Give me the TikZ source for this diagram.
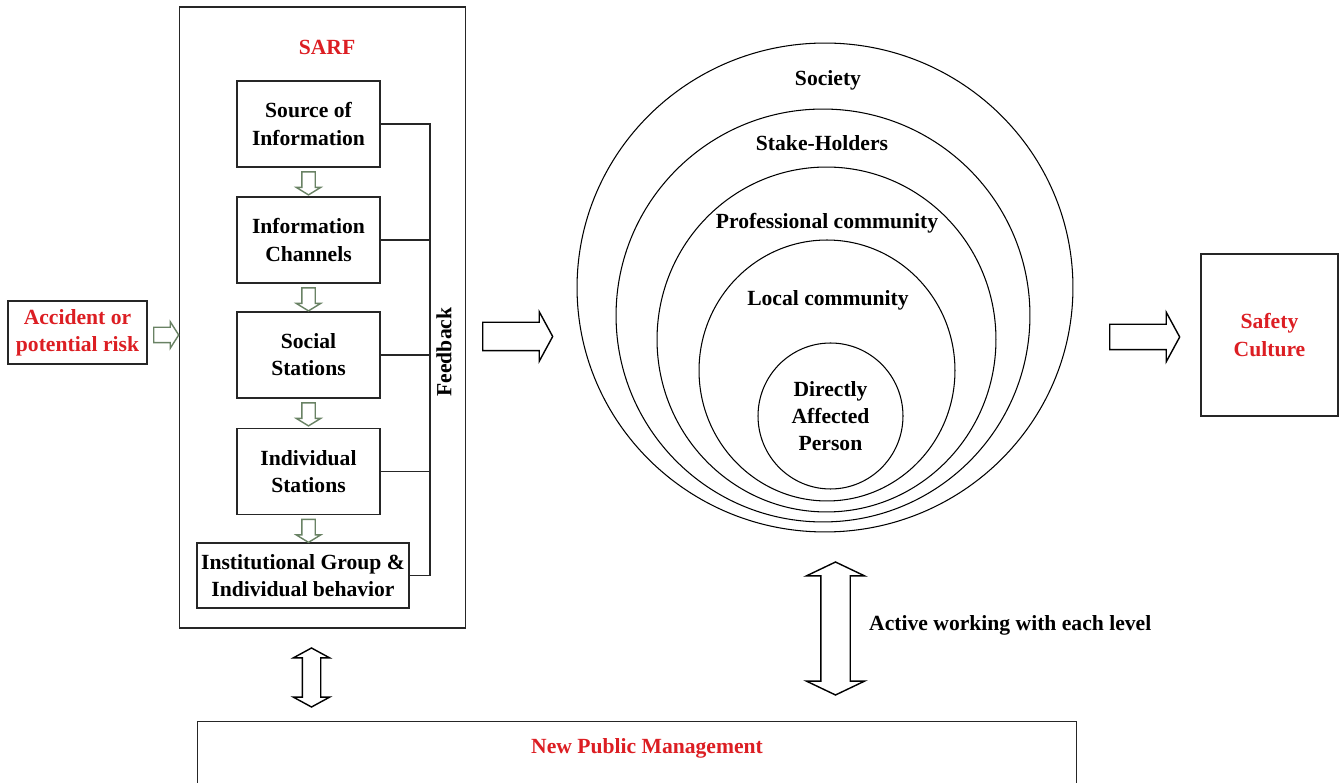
\documentclass[tikz,border=0pt]{standalone}
\usepackage{fontspec}
\setmainfont{Liberation Serif}
\usetikzlibrary{shapes.geometric, shapes.arrows, positioning}

\definecolor{sarfred}{RGB}{220,30,35}
\definecolor{flowgreen}{RGB}{105,130,100}

\begin{document}
\begin{tikzpicture}[
    x=0.02cm, y=-0.02cm,
    font=\fontsize{12.3}{15.4}\selectfont\bfseries,
    box/.style={draw=black!85, line width=0.8pt, rectangle, align=center,
                inner sep=2pt},
    stage/.style={box, minimum width=2.86cm, minimum height=1.72cm},
    redtext/.style={text=sarfred, align=center},
    ring/.style={draw, ellipse, line width=0.6pt, inner sep=0pt, align=center},
    blockarrow/.style={draw, single arrow, line width=0.8pt, fill=white,
                       anchor=tail},
    smallarrow/.style={blockarrow, draw=flowgreen},
    twoway/.style={draw, double arrow, line width=0.8pt, fill=white,
                   shape border rotate=90},
    fbline/.style={line width=0.8pt, black!85},
]
\clip (0,0) rectangle (1340,783);

% ------------------------------------------------------------
% SARF frame and its stages
% ------------------------------------------------------------
\node[box, minimum width=5.72cm, minimum height=12.42cm] (sarf) at (322.5,317.5) {};
\node[redtext] (sarftitle) at (327,47) {SARF};

\node[stage] (src)  at (308.5,124)   {Source of\\Information};
\node[stage] (chan) at (308.5,240)   {Information\\Channels};
\node[stage] (soc)  at (308.5,355)   {Social\\Stations};
\node[stage] (ind)  at (308.5,471.5) {Individual\\Stations};
\node[box, minimum width=4.24cm, minimum height=1.3cm, inner sep=1pt]
    (inst) at (303,575.5) {Institutional Group \&\\Individual behavior};

% small arrows between the stages
\foreach \s in {src,chan,soc,ind}
    \node[smallarrow, shape border rotate=270, minimum height=0.46cm,
          inner sep=0.12cm, single arrow head extend=0.11cm,
          single arrow tip angle=117] (arr-\s) at ([yshift=-0.07cm]\s.south) {};

% feedback rail
\coordinate (fb) at (430,0);
\draw[fbline] (src.east) -- (src.east -| fb) -- (inst.east -| fb) -- (inst.east);
\foreach \s in {chan,soc,ind}
    \draw[fbline] (\s.east) -- (\s.east -| fb);
\node[rotate=90] (fblabel) at (444,352) {Feedback};

% ------------------------------------------------------------
% Input
% ------------------------------------------------------------
\node[box, redtext, minimum width=2.78cm, minimum height=1.26cm]
    (accident) at (77.5,332.5) {Accident or\\potential risk};
\node[smallarrow, minimum height=0.5cm, inner sep=0.14cm,
      single arrow head extend=0.11cm, single arrow tip angle=115]
    (arr-in) at (153,335) {};

% ------------------------------------------------------------
% Levels of society
% ------------------------------------------------------------
\node[ring, minimum width=9.92cm, minimum height=9.78cm] (society) at (825,287.5) {};
\node[ring, minimum width=8.28cm, minimum height=8.26cm] (stake)   at (823,315.5) {};
\node[ring, minimum width=6.78cm, minimum height=6.9cm]  (prof)    at (826.5,339.5) {};
\node[ring, minimum width=5.12cm, minimum height=5.22cm] (local)   at (827,370.5) {};
\node[ring, minimum width=2.9cm,  minimum height=2.92cm] (direct)  at (830.5,416)
    {Directly\\Affected\\Person};

\node (societylabel) at (828,80)  {Society};
\node (stakelabel)   at (822,143) {Stake-Holders};
\node (proflabel)    at (827,223) {Professional community};
\node (locallabel)   at (828,300) {Local community};

% ------------------------------------------------------------
% Output and block arrows
% ------------------------------------------------------------
\node[box, redtext, minimum width=2.74cm, minimum height=3.24cm]
    (safety) at (1269.5,335) {Safety\\Culture};

\node[blockarrow, minimum height=1.4cm, inner sep=0.27cm,
      single arrow head extend=0.21cm, single arrow tip angle=123]
    (arr-sarf) at (482,336.5) {};
\node[blockarrow, minimum height=1.4cm, inner sep=0.24cm,
      single arrow head extend=0.24cm, single arrow tip angle=123]
    (arr-safety) at (1109,337) {};

% ------------------------------------------------------------
% New Public Management
% ------------------------------------------------------------
\node[box, anchor=north west, minimum width=17.58cm, minimum height=1.7cm]
    (npm) at (197,721) {};
\node[redtext] (npmlabel) at (647,748) {New Public Management};

\node[twoway, minimum height=1.18cm, inner sep=0.17cm,
      double arrow head extend=0.18cm, double arrow tip angle=123]
    (arr-npm) at (311.5,677.5) {};
\node[twoway, minimum height=2.66cm, inner sep=0.28cm,
      double arrow head extend=0.29cm, double arrow tip angle=129]
    (arr-levels) at (835.5,628.5) {};
\node[anchor=west] (activelabel) at (863,625) {Active working with each level};

\end{tikzpicture}
\end{document}
